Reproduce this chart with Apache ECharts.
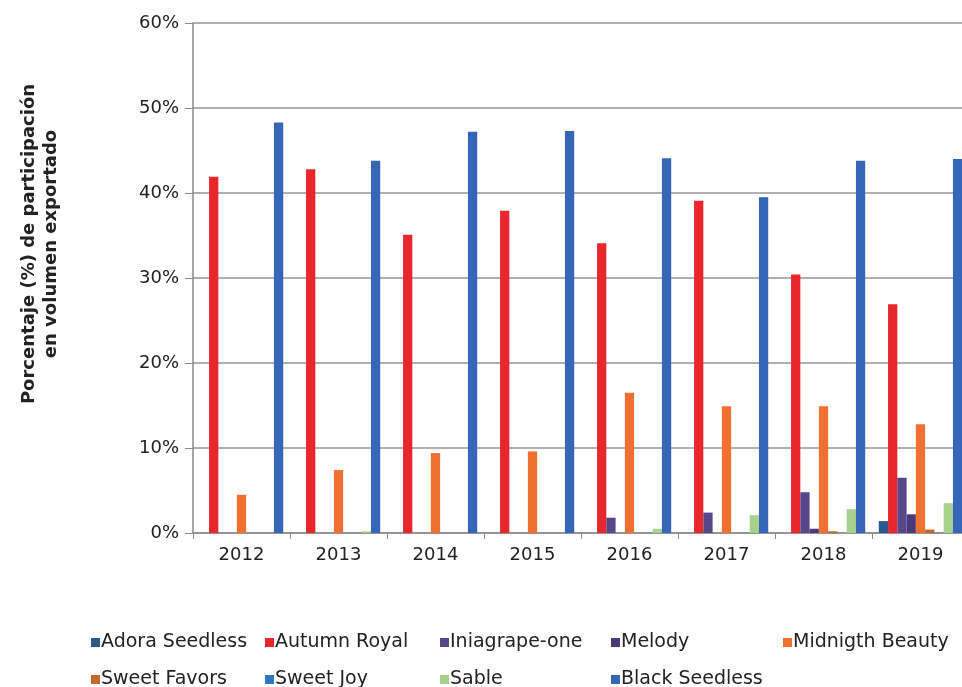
<!DOCTYPE html>
<html>
<head>
<meta charset="utf-8">
<script src="https://cdn.jsdelivr.net/npm/echarts@6/dist/echarts.min.js"></script>
<style>html,body{margin:0;padding:0;background:#fff}#c{width:962px;height:687px}</style>
</head>
<body>
<div id="c"></div>
<script>
const categories = ['2012','2013','2014','2015','2016','2017','2018','2019'];
const seriesNames = ['Adora Seedless','Autumn Royal','Iniagrape-one','Melody','Midnigth Beauty','Sweet Favors','Sweet Joy','Sable','Black Seedless'];
const adoraSeedless  = [0, 0, 0, 0, 0, 0, 0, 1.4];
const autumnRoyal    = [41.9, 42.8, 35.1, 37.9, 34.1, 39.1, 30.4, 26.9];
const iniagrapeOne   = [0, 0, 0, 0, 1.8, 2.4, 4.8, 6.5];
const melody         = [0, 0, 0, 0, 0, 0, 0.5, 2.2];
const midnigthBeauty = [4.5, 7.4, 9.4, 9.6, 16.5, 14.9, 14.9, 12.8];
const sweetFavors    = [0, 0, 0, 0, 0, 0, 0.2, 0.4];
const sweetJoy       = [0, 0, 0, 0, 0, 0, 0, 0];
const sable          = [0, 0.2, 0, 0, 0.5, 2.1, 2.8, 3.5];
const blackSeedless  = [48.3, 43.8, 47.2, 47.3, 44.1, 39.5, 43.8, 44.0];
const yTicks = [0, 10, 20, 30, 40, 50, 60];

const seriesData = [adoraSeedless, autumnRoyal, iniagrapeOne, melody, midnigthBeauty, sweetFavors, sweetJoy, sable, blackSeedless];
const colors = ['#2a5a8c','#e8262b','#58468a','#4a3a7c','#f07032','#c2682c','#2f74bf','#a9d18e','#3566b8'];

const legendPos = [
  [86,628],[260,628],[435,628],[606,628],[778,628],
  [86,665],[260,665],[435,665],[606,665]
];
const legends = seriesNames.map((n,i)=>({
  data:[n], left: legendPos[i][0], top: legendPos[i][1],
  icon:'rect', itemWidth:9, itemHeight:9, itemGap:0,
  textStyle:{fontFamily:'DejaVu Sans', fontSize:19, color:'#222', padding:[0,0,0,-4]},
  selectedMode:false
}));

const chart = echarts.init(document.getElementById('c'), null, {renderer:'canvas'});
chart.setOption({
  animation:false,
  backgroundColor:'#fff',
  color: colors,
  legend: legends,
  grid:{left:193, top:23, width:776, bottom:154, containLabel:false, outerBoundsMode:'none'},
  xAxis:{
    type:'category', data:categories,
    axisLine:{lineStyle:{color:'#8a8a8a', width:1.5}},
    axisTick:{show:true, length:6, lineStyle:{color:'#8a8a8a'}},
    axisLabel:{fontFamily:'DejaVu Sans', fontSize:18, color:'#222', margin:13}
  },
  yAxis:{
    type:'value', min:0, max:60, interval:10,
    axisLine:{show:true, lineStyle:{color:'#8a8a8a', width:1.5}},
    axisTick:{show:true, length:8, lineStyle:{color:'#8a8a8a'}},
    splitLine:{lineStyle:{color:'#969696', width:1.5}},
    axisLabel:{fontFamily:'DejaVu Sans', fontSize:18, color:'#222', margin:14,
      formatter: v => yTicks.includes(v) ? v + '%' : ''}
  },
  graphic:[{
    type:'text',
    x:40, y:244,
    rotation: Math.PI/2,
    style:{
      text:'Porcentaje (%) de participación\nen volumen exportado',
      font:'bold 18px "DejaVu Sans"', fill:'#222',
      textAlign:'center', textVerticalAlign:'middle', lineHeight:22
    }
  }],
  series: seriesNames.map((n,i)=>({
    name:n, type:'bar', data:seriesData[i],
    barGap:'0%', barCategoryGap:'14%',
    itemStyle:{color:colors[i]}
  }))
});
</script>
</body>
</html>
